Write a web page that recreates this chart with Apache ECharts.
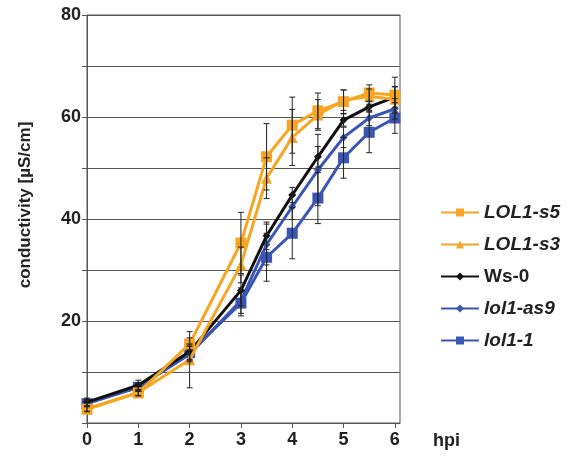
<!DOCTYPE html>
<html><head><meta charset="utf-8">
<script src="https://cdn.jsdelivr.net/npm/echarts@6/dist/echarts.min.js"></script>
<style>html,body{margin:0;padding:0;background:#fff}#c{width:577px;height:456px}</style>
</head><body><div id="c"></div>
<script>
const hpi = [0, 1, 2, 3, 3.5, 4, 4.5, 5, 5.5, 6];
const seriesNames = ['LOL1-s5', 'LOL1-s3', 'Ws-0', 'lol1-as9', 'lol1-1'];
const lol1s5 = [2.7, 5.9, 15.5, 35.3, 52.2, 58.4, 61.2, 63.0, 64.7, 64.3];
const lol1s3 = [2.8, 6.0, 12.4, 31.0, 48.0, 56.0, 60.4, 63.3, 64.0, 63.5];
const ws0    = [4.1, 7.4, 14.0, 26.0, 36.7, 44.7, 52.2, 59.4, 62.0, 63.9];
const as9    = [4.0, 7.0, 13.5, 24.0, 35.0, 42.4, 49.6, 56.0, 59.8, 61.6];
const lol11  = [3.8, 7.0, 13.8, 23.5, 32.5, 37.2, 44.1, 52.0, 57.0, 59.8];
const errS5  = [0.5, 0.6, 1.2, 6.0, 6.5, 5.5, 3.5, 2.3, 1.6, 3.5];
const errS3  = [0.5, 0.6, 5.5, 3.5, 4.0, 5.5, 3.0, 2.0, 1.5, 2.5];
const errWs  = [0.8, 1.0, 1.5, 3.0, 2.7, 1.5, 2.0, 1.2, 1.0, 2.0];
const errAs9 = [0.6, 0.8, 1.5, 2.5, 4.0, 2.5, 7.0, 2.0, 1.5, 2.0];
const err11  = [0.6, 0.8, 1.5, 2.5, 4.7, 5.0, 5.0, 4.0, 4.0, 3.0];
const yTickLabels = [20, 40, 60, 80];
const xTickLabels = [0, 1, 2, 3, 4, 5, 6];
const yTitle = 'conductivity [µS/cm]';
const xTitle = 'hpi';

const ORANGE = '#F6A623', BLUE = '#3A55B4', BLACK = '#111111';
const FONT = "'Liberation Sans', Arial, sans-serif";
const values = [lol1s5, lol1s3, ws0, as9, lol11];
const errs = [errS5, errS3, errWs, errAs9, err11];
const colors = [ORANGE, ORANGE, BLACK, BLUE, BLUE];
const symbols = ['rect', 'triangle', 'diamond', 'diamond', 'rect'];
const sizes = [11, 11, 8, 8, 11];

const series = [];
values.forEach((vals, i) => {
  series.push({
    name: seriesNames[i], type: 'line',
    data: hpi.map((x, k) => [x, vals[k]]),
    symbol: symbols[i], symbolSize: sizes[i],
    lineStyle: {color: colors[i], width: 3},
    itemStyle: {color: colors[i]},
    z: 3 + (4 - i)
  });
});
values.forEach((vals, i) => {
  series.push({
    type: 'custom', silent: true, z: 10,
    data: hpi.map((x, k) => [x, vals[k] - errs[i][k], vals[k] + errs[i][k]]),
    renderItem: function (params, api) {
      const lo = api.coord([api.value(0), api.value(1)]);
      const hi = api.coord([api.value(0), api.value(2)]);
      const w = 3;
      const st = {stroke: '#222', lineWidth: 1};
      return {type: 'group', children: [
        {type: 'line', shape: {x1: lo[0], y1: lo[1], x2: hi[0], y2: hi[1]}, style: st},
        {type: 'line', shape: {x1: lo[0] - w, y1: lo[1], x2: lo[0] + w, y2: lo[1]}, style: st},
        {type: 'line', shape: {x1: hi[0] - w, y1: hi[1], x2: hi[0] + w, y2: hi[1]}, style: st}
      ]};
    }
  });
});

const chart = echarts.init(document.getElementById('c'));
chart.setOption({
  animation: false,
  backgroundColor: '#fff',
  grid: {left: 87, right: 177, top: 15, bottom: 33, show: true, borderColor: '#555', borderWidth: 1},
  graphic: [{
    type: 'text', x: 25, y: 205, rotation: Math.PI / 2,
    style: {text: yTitle, font: "bold 17px " + FONT, fill: '#222', align: 'center', verticalAlign: 'middle'}
  }],
  legend: {
    orient: 'vertical', left: 435, top: 198, itemGap: 13,
    itemWidth: 38, itemHeight: 10,
    data: seriesNames.map((n) => ({name: n, textStyle: {fontStyle: n === 'Ws-0' ? 'normal' : 'italic'}})),
    textStyle: {fontFamily: FONT, fontSize: 19, fontWeight: 'bold', color: '#222'}
  },
  xAxis: {
    type: 'value', min: 0, max: 6.1, interval: 1,
    name: xTitle, nameLocation: 'end', nameGap: 33,
    nameTextStyle: {fontFamily: FONT, fontSize: 18, fontWeight: 'bold', color: '#222', verticalAlign: 'top', padding: [9, 0, 0, 0]},
    axisLine: {lineStyle: {color: '#555', width: 1}},
    axisTick: {show: true, length: 5, lineStyle: {color: '#555'}, customValues: xTickLabels},
    axisLabel: {fontFamily: FONT, fontSize: 18, fontWeight: 'bold', color: '#222', margin: 8, customValues: xTickLabels},
    splitLine: {show: false}
  },
  yAxis: {
    type: 'value', min: 0, max: 80, interval: 10,
    axisLine: {show: true, lineStyle: {color: '#555', width: 1}},
    axisTick: {show: true, length: 5, lineStyle: {color: '#555'}},
    axisLabel: {fontFamily: FONT, fontSize: 18, fontWeight: 'bold', color: '#222', margin: 6,
      formatter: (v) => yTickLabels.indexOf(v) >= 0 ? String(v) : ''},
    splitLine: {show: true, lineStyle: {color: '#555', width: 1}}
  },
  series: series
});
</script>
</body></html>
